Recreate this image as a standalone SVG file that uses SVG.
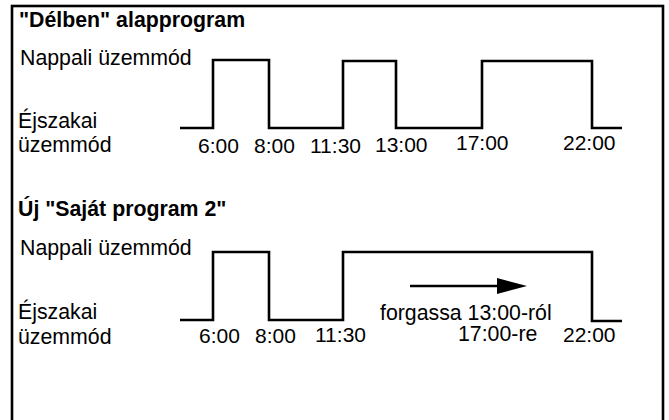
<svg xmlns="http://www.w3.org/2000/svg" width="669" height="420" viewBox="0 0 669 420">
<style>
text{font-family:"Liberation Sans",Arial,sans-serif;font-size:21.3px;fill:#000}
.t{font-weight:bold}
.n{font-size:21px}
.w{fill:none;stroke:#000;stroke-width:2.6}
</style>
<rect x="12" y="6" width="651" height="440" fill="#fff" stroke="#000" stroke-width="2.6"/>
<g id="section1">
<text class="t" x="19" y="27">"Délben" alapprogram</text>
<text x="20" y="65">Nappali üzemmód</text>
<text x="18" y="128">Éjszakai</text>
<text x="18" y="152">üzemmód</text>
<g id="times1">
<text class="n" x="198" y="153">6:00</text>
<text class="n" x="254" y="153">8:00</text>
<text class="n" x="310" y="153">11:30</text>
<text class="n" x="375" y="152">13:00</text>
<text class="n" x="456" y="150">17:00</text>
<text class="n" x="563" y="150">22:00</text>
</g>
</g>
<g id="section2">
<text class="t" x="18" y="216">Új "Saját program 2"</text>
<text x="20" y="255">Nappali üzemmód</text>
<text x="18" y="319">Éjszakai</text>
<text x="18" y="344">üzemmód</text>
<g id="times2">
<text class="n" x="199" y="343">6:00</text>
<text class="n" x="255" y="343">8:00</text>
<text class="n" x="315" y="342">11:30</text>
<text x="380" y="320">forgassa 13:00-ról</text>
<text x="458" y="341">17:00-re</text>
<text class="n" x="563" y="342">22:00</text>
</g>
</g>
<g id="connectors">
<polyline class="w" points="180,128 213,128 213,60 269,60 269,128 343,128 343,61 396,61 396,128 482,128 482,61 592,61 592,128 622,128"/>
<polyline class="w" points="180,320 213,320 213,252 269,252 269,320 343,320 343,252 592,252 592,321 622,321"/>
<line x1="410" y1="286" x2="498" y2="286" stroke="#000" stroke-width="2.6"/>
<polygon points="497,278 527,286 497,294" fill="#000"/>
</g>
</svg>
